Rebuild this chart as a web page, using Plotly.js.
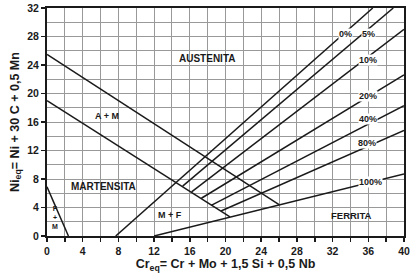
<!DOCTYPE html>
<html><head><meta charset="utf-8">
<script src="https://cdn.plot.ly/plotly-3.0.1.min.js"></script>
<style>html,body{margin:0;padding:0;background:#fff}#c{width:414px;height:277px}</style>
</head><body><div id="c"></div>
<script>
// Boundary lines (Cr_eq, Ni_eq)
const lineAM_x = [0, 26.0];      const lineAM_y = [25.5, 4.4];
const lineMart_x = [0, 20.5];    const lineMart_y = [19.0, 2.7];
const lineFM_x = [0, 2.4];       const lineFM_y = [6.9, 0];
// Ferrite iso-lines: start and end points
const ferriteLabels = ['0%', '5%', '10%', '20%', '40%', '80%', '100%'];
const ferriteX0 = [7.7, 15.2, 16.2, 17.3, 18.4, 19.5, 12.0];
const ferriteY0 = [0.0, 7.0, 6.2, 5.3, 4.3, 3.5, 0.0];
const ferriteX1 = [36.5, 38.8, 40.0, 40.0, 40.0, 40.0, 40.0];
const ferriteY1 = [32.0, 32.0, 29.0, 22.6, 18.3, 14.8, 8.7];
const ferriteLabelX = [33.4, 36.0, 36.0, 36.0, 36.0, 35.8, 36.2];
const ferriteLabelY = [28.4, 28.4, 24.7, 19.6, 16.4, 13.0, 7.6];
// Region labels
const regionNames = ['AUSTENITA', 'A + M', 'MARTENSITA', 'M + F', 'FERRITA'];
const regionX = [17.9, 6.7, 6.3, 13.8, 34.1];
const regionY = [24.85, 16.9, 7.0, 3.0, 2.9];
const regionSize = [10, 9, 10, 9, 9.5];
const xTicks = [0, 4, 8, 12, 16, 20, 24, 28, 32, 36, 40];
const yTicks = [0, 4, 8, 12, 16, 20, 24, 28, 32];

const lineStyle = {color: '#1a1a1a', width: 1.5};
const traces = [];
function addLine(x, y) {
  traces.push({type: 'scatter', mode: 'lines', x: x, y: y, line: lineStyle, hoverinfo: 'skip', showlegend: false});
}
addLine(lineAM_x, lineAM_y);
addLine(lineMart_x, lineMart_y);
addLine(lineFM_x, lineFM_y);
for (let i = 0; i < ferriteLabels.length; i++) {
  addLine([ferriteX0[i], ferriteX1[i]], [ferriteY0[i], ferriteY1[i]]);
}

const ann = [];
for (let i = 0; i < ferriteLabels.length; i++) {
  ann.push({x: ferriteLabelX[i], y: ferriteLabelY[i], text: '<b>' + ferriteLabels[i] + '</b>', showarrow: false,
    bgcolor: '#fff', borderpad: 0, font: {family: 'Liberation Sans, Arial', size: 9, color: '#1a1a1a'}});
}
for (let i = 0; i < regionNames.length; i++) {
  ann.push({x: regionX[i], y: regionY[i], text: '<b>' + regionNames[i] + '</b>', showarrow: false,
    font: {family: 'Liberation Sans, Arial', size: regionSize[i], color: '#1a1a1a'}});
}
ann.push({x: 0.85, y: 2.6, text: '<b>F<br>+<br>M</b>', showarrow: false,
  font: {family: 'Liberation Sans, Arial', size: 7, color: '#1a1a1a'}});

const fontB = {family: 'Liberation Sans, Arial', size: 10.5, color: '#1a1a1a', weight: 'bold'};
const layout = {
  width: 414, height: 277,
  margin: {l: 47, r: 10, t: 8, b: 41},
  paper_bgcolor: '#fff', plot_bgcolor: '#fff',
  showlegend: false,
  xaxis: {range: [0, 40], tickvals: xTicks, ticktext: xTicks.map(String), tickfont: fontB,
    ticks: 'outside', ticklen: 4, tickwidth: 1.5, tickcolor: '#1a1a1a',
    showline: true, linecolor: '#1a1a1a', linewidth: 2, mirror: true,
    showgrid: true, gridcolor: '#999', gridwidth: 1, zeroline: false,
    minor: {dtick: 2, tick0: 0, showgrid: true, gridcolor: '#999', gridwidth: 1, ticks: 'outside', ticklen: 4, tickcolor: '#1a1a1a'},
    title: {text: '<b>Cr<sub>eq</sub>= Cr + Mo + 1,5 Si + 0,5 Nb</b>', font: {family: 'Liberation Sans, Arial', size: 12.5, color: '#1a1a1a'}, standoff: 4}},
  yaxis: {range: [0, 32], tickvals: yTicks, ticktext: yTicks.map(String), tickfont: fontB,
    ticks: 'outside', ticklen: 4, tickwidth: 1.5, tickcolor: '#1a1a1a',
    showline: true, linecolor: '#1a1a1a', linewidth: 2, mirror: true,
    showgrid: true, gridcolor: '#999', gridwidth: 1, zeroline: false,
    minor: {dtick: 2, tick0: 0, showgrid: true, gridcolor: '#999', gridwidth: 1},
    title: {text: '<b>Ni<sub>eq</sub>= Ni + 30 C + 0,5 Mn</b>', font: {family: 'Liberation Sans, Arial', size: 12.5, color: '#1a1a1a'}, standoff: 5}},
  annotations: ann
};
Plotly.newPlot('c', traces, layout, {staticPlot: true, displayModeBar: false});
</script></body></html>
